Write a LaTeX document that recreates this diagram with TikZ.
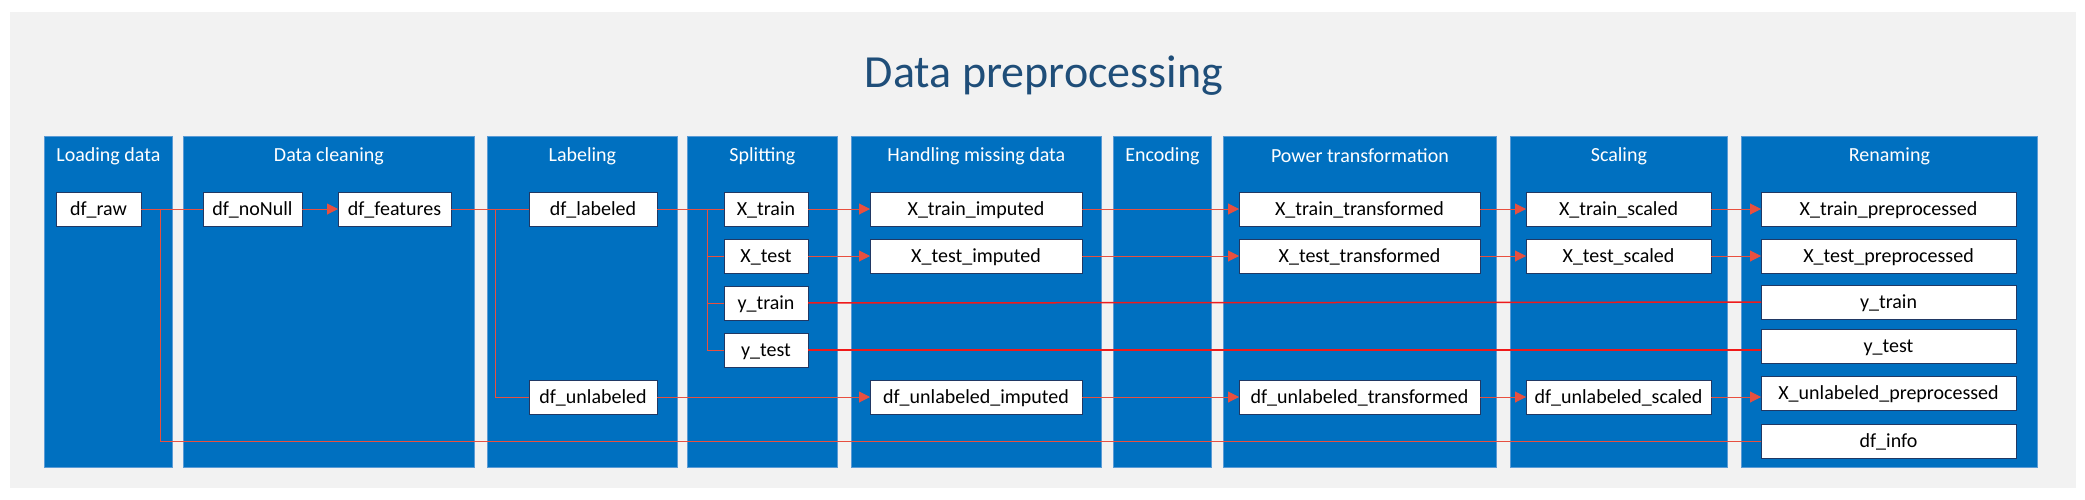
\documentclass[tikz,border=0pt]{standalone}
\usepackage{fontspec}
\setmainfont{Carlito}
\usetikzlibrary{arrows.meta,positioning,calc}
\definecolor{bggray}{HTML}{F2F2F2}
\definecolor{laneblue}{HTML}{0070C0}
\definecolor{laneedge}{HTML}{5B9BD5}
\definecolor{titleblue}{HTML}{1F4E79}
\definecolor{boxedge}{HTML}{203864}
\definecolor{linkred}{HTML}{E8503F}
\definecolor{brightred}{HTML}{F01A1A}
\tikzset{
    lane/.style={fill=laneblue, draw=laneedge, line width=0.8pt, anchor=north west, minimum height=331pt, inner sep=0pt},
    lanetitle/.style={text=white, inner sep=0pt, font=\fontsize{20}{24}\selectfont},
    maintitle/.style={text=titleblue, inner sep=0pt, font=\fontsize{46}{52}\selectfont},
    box/.style={draw=boxedge, fill=white, line width=0.8pt, minimum height=34pt, inner sep=0pt, outer sep=0pt, text height=15pt, text depth=2pt, font=\fontsize{20}{24}\selectfont},
    link/.style={draw=linkred, line width=1pt},
    flow/.style={link, -{Triangle[length=11pt, width=11pt]}},
    yline/.style={draw=brightred, line width=1.5pt}
}
\begin{document}
\begin{tikzpicture}[x=1pt, y=-1pt]
    \fill[white] (0,0) rectangle (2085,499);
    \useasboundingbox (0,0) rectangle (2085,499);
    \fill[bggray] (10,12) rectangle (2076,488);
    \node[maintitle, anchor=base] (title) at (1044,87) {Data preprocessing};

    % lanes
    \node[lane, minimum width=128pt] (loading) at (44,136) {};
    \node[lane, minimum width=291pt] (cleaning) at (183,136) {};
    \node[lane, minimum width=190pt] (labeling) at (487,136) {};
    \node[lane, minimum width=150pt] (splitting) at (687,136) {};
    \node[lane, minimum width=250pt] (missing) at (851,136) {};
    \node[lane, minimum width=98pt] (encoding) at (1113,136) {};
    \node[lane, minimum width=273pt] (power) at (1223,136) {};
    \node[lane, minimum width=217pt] (scaling) at (1510,136) {};
    \node[lane, minimum width=296pt] (renaming) at (1741,136) {};

    \node[lanetitle] (loadingT) at ([yshift=-20pt]loading.north) {Loading data};
    \node[lanetitle] (cleaningT) at ([yshift=-20pt]cleaning.north) {Data cleaning};
    \node[lanetitle] (labelingT) at ([yshift=-20pt]labeling.north) {Labeling};
    \node[lanetitle] (splittingT) at ([yshift=-20pt]splitting.north) {Splitting};
    \node[lanetitle] (missingT) at ([yshift=-20pt]missing.north) {Handling missing data};
    \node[lanetitle] (encodingT) at ([yshift=-20pt]encoding.north) {Encoding};
    \node[lanetitle] (powerT) at ([yshift=-20pt]power.north) {Power transformation};
    \node[lanetitle] (scalingT) at ([yshift=-20pt]scaling.north) {Scaling};
    \node[lanetitle] (renamingT) at ([yshift=-20pt]renaming.north) {Renaming};

    % data frames
    \node[box, minimum width=85pt] (raw) at (98.5,209) {df\_raw};
    \node[box, minimum width=99pt, right=62pt of raw] (noNull) {df\_noNull};
    \node[box, minimum width=113pt, right=36pt of noNull] (features) {df\_features};
    \node[box, minimum width=128pt, right=78pt of features] (labeled) {df\_labeled};
    \node[box, minimum width=128pt, below=154pt of labeled] (unlabeled) {df\_unlabeled};

    \node[box, minimum width=84pt, right=67pt of labeled] (xtrain) {X\_train};
    \node[box, minimum width=84pt, below=13pt of xtrain] (xtest) {X\_test};
    \node[box, minimum width=84pt, below=13pt of xtest] (ytrain) {y\_train};
    \node[box, minimum width=84pt, below=13pt of ytrain] (ytest) {y\_test};

    \node[box, minimum width=212pt, right=62pt of xtrain] (xtrainImp) {X\_train\_imputed};
    \node[box, minimum width=212pt, below=13pt of xtrainImp] (xtestImp) {X\_test\_imputed};
    \node[box, minimum width=212pt] (unlImp) at (xtrainImp |- unlabeled) {df\_unlabeled\_imputed};

    \node[box, minimum width=241pt, right=157pt of xtrainImp] (xtrainTr) {X\_train\_transformed};
    \node[box, minimum width=241pt, below=13pt of xtrainTr] (xtestTr) {X\_test\_transformed};
    \node[box, minimum width=241pt] (unlTr) at (xtrainTr |- unlabeled) {df\_unlabeled\_transformed};

    \node[box, minimum width=185pt, right=46pt of xtrainTr] (xtrainSc) {X\_train\_scaled};
    \node[box, minimum width=185pt, below=13pt of xtrainSc] (xtestSc) {X\_test\_scaled};
    \node[box, minimum width=185pt] (unlSc) at (xtrainSc |- unlabeled) {df\_unlabeled\_scaled};

    \node[box, minimum width=255pt, right=50pt of xtrainSc] (xtrainPre) {X\_train\_preprocessed};
    \node[box, minimum width=255pt, below=13pt of xtrainPre] (xtestPre) {X\_test\_preprocessed};
    \node[box, minimum width=255pt, below=12pt of xtestPre] (ytrainPre) {y\_train};
    \node[box, minimum width=255pt, below=10pt of ytrainPre] (ytestPre) {y\_test};
    \node[box, minimum width=255pt, below=13pt of ytestPre] (xunlPre) {X\_unlabeled\_preprocessed};
    \node[box, minimum width=255pt, below=14pt of xunlPre] (info) {df\_info};

    % connectors
    \coordinate (rawSplit) at ($(raw.east)+(19,0)$);
    \coordinate (featSplit) at ($(features.east)+(44,0)$);
    \coordinate (labSplit) at ($(xtrain.west)+(-17,0)$);

    \draw[link] (raw) -- (noNull);
    \draw[link] (rawSplit) |- (info);
    \draw[flow] (noNull) -- (features);
    \draw[link] (features) -- (labeled);
    \draw[link] (featSplit) |- (unlabeled);
    \draw[link] (labeled) -- (xtrain);
    \draw[link] (labSplit) |- (xtest);
    \draw[link] (labSplit) |- (ytrain);
    \draw[link] (labSplit) |- (ytest);

    \draw[flow] (xtrain) -- (xtrainImp);
    \draw[flow] (xtest) -- (xtestImp);
    \draw[flow] (unlabeled) -- (unlImp);
    \draw[yline] (ytrain) -- (ytrainPre);
    \draw[yline] (ytest) -- (ytest -| ytestPre.west);

    \draw[flow] (xtrainImp) -- (xtrainTr);
    \draw[flow] (xtestImp) -- (xtestTr);
    \draw[flow] (unlImp) -- (unlTr);

    \draw[flow] (xtrainTr) -- (xtrainSc);
    \draw[flow] (xtestTr) -- (xtestSc);
    \draw[flow] (unlTr) -- (unlSc);

    \draw[flow] (xtrainSc) -- (xtrainPre);
    \draw[flow] (xtestSc) -- (xtestPre);
    \draw[flow] (unlSc) -- (unlSc -| xunlPre.west);
\end{tikzpicture}
\end{document}
